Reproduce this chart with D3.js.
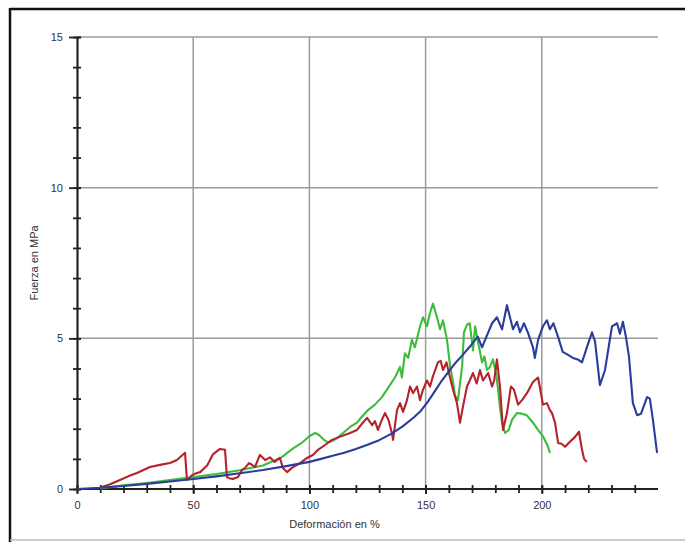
<!DOCTYPE html>
<html>
<head>
<meta charset="utf-8">
<script src="https://cdn.jsdelivr.net/npm/d3@7"></script>
<style>
  body { margin: 0; background: #fff; }
  svg { display: block; font-family: "Liberation Sans", Arial, sans-serif; }
</style>
</head>
<body>
<svg id="chart" width="685" height="542"></svg>
<script>
// tick values
const xMajor = [0, 50, 100, 150, 200];
const yMajor = [0, 5, 10, 15];

// series: [deformación %, fuerza MPa]
const blueData = [
  [0,0],[10,0.04],[20,0.1],[30,0.17],[40,0.25],[50,0.33],[60,0.42],[70,0.52],[80,0.63],
  [90,0.76],[100,0.9],[105,1.0],[110,1.1],[115,1.2],[120,1.33],[125,1.47],[130,1.62],
  [135,1.82],[140,2.07],[145,2.38],[148,2.6],[151,2.9],[154,3.25],[157,3.6],[160,3.9],
  [163,4.2],[166,4.45],[169,4.72],[171.3,4.95],[172.5,5.05],[174.3,4.7],
  [175.6,4.95],[178.6,5.5],[180.7,5.7],[182.9,5.3],[185,6.1],[186.3,5.7],[187.6,5.3],
  [189.3,5.55],[190.6,5.2],[192.3,5.5],[194,5.2],[196.2,4.7],[197,4.35],[198.4,4.95],
  [200.5,5.4],[202.2,5.6],[203.5,5.3],[205,5.5],[207,5.05],[209,4.55],[211.3,4.45],
  [213.4,4.35],[215.5,4.3],[217.3,4.2],[219.4,4.7],[221.6,5.2],[222.9,4.9],[225,3.45],
  [227.2,3.95],[230.2,5.4],[232.4,5.5],[233.6,5.15],[234.9,5.55],[236.2,5.05],[237.5,4.4],
  [239.2,2.85],[241,2.45],[242.7,2.5],[245.3,3.05],[246.5,3.0],[247.8,2.3],[249.6,1.2]
];

const redData = [
  [10,0.05],[14,0.15],[18.5,0.3],[22,0.42],[25.8,0.53],[31.4,0.73],[35.7,0.8],[40,0.86],
  [43,0.96],[46.5,1.2],[47.3,0.3],[49.5,0.46],[51.6,0.53],[53,0.56],[56,0.78],[58.5,1.15],
  [61.5,1.33],[63.7,1.3],[64.5,0.4],[65.5,0.36],[67,0.33],[69.3,0.4],[71,0.63],[72.3,0.7],
  [74,0.86],[75,0.82],[76.6,0.73],[78.7,1.13],[81,0.96],[83,1.05],[85,0.9],[87.3,1.03],
  [88.6,0.7],[90.4,0.56],[92.5,0.7],[96,0.86],[99,1.03],[101.5,1.13],[103.7,1.3],
  [106.7,1.46],[109.7,1.63],[113,1.73],[117.5,1.86],[120.5,1.96],[123,2.2],[124.8,2.36],
  [127,2.12],[128.2,2.25],[129.5,1.96],[131.2,2.3],[132.5,2.52],[134,2.3],[135.5,1.86],
  [136,1.63],[137.7,2.62],[139,2.85],[140.3,2.56],[142,2.95],[143.3,3.4],[144.6,3.18],
  [146.3,3.4],[147.6,2.95],[148.9,3.3],[150.6,3.6],[151.9,3.4],[153.2,3.75],[155.3,4.2],
  [156.5,4.25],[157.5,3.95],[159,4.2],[160.5,3.7],[161.8,3.3],[163.5,2.85],[164.8,2.2],
  [166,2.7],[167.8,3.4],[169,3.6],[170.4,3.85],[172,3.5],[173.4,3.95],[174.7,3.6],
  [176.9,3.85],[178.6,3.4],[179.5,3.6],[180.7,4.3],[182,3.4],[183.3,1.96],[185,2.52],
  [186.7,3.4],[188,3.3],[189.8,2.8],[191.5,2.95],[193.6,3.18],[196.2,3.55],[198.4,3.7],
  [200.5,2.8],[202.2,2.85],[203.5,2.62],[204.4,2.52],[205.7,2.2],[207,1.53],[208.5,1.5],
  [210,1.4],[212,1.56],[214.3,1.73],[216,1.9],[217.3,1.3],[218.2,1.0],[219.4,0.9]
];

const greenData = [
  [10,0.02],[20,0.12],[30,0.2],[40,0.3],[50,0.4],[60,0.5],[70,0.62],[80,0.78],[88,1.05],
  [93,1.35],[97,1.55],[100,1.75],[102.5,1.86],[104,1.8],[106,1.65],[108,1.55],[110,1.6],
  [112,1.7],[114.5,1.86],[117.5,2.06],[120.5,2.2],[122.6,2.4],[125.2,2.62],[128.2,2.8],
  [131.2,3.05],[133.8,3.35],[136.8,3.7],[139,4.05],[139.8,3.7],[141.1,4.5],[142.5,4.35],
  [144.1,4.95],[145.4,4.7],[147.6,5.4],[148.9,5.7],[150.6,5.4],[151.9,5.85],[153.2,6.15],
  [154.9,5.7],[156.2,5.3],[157.5,5.6],[159.2,4.95],[160.5,4.1],[161.8,3.55],[162.6,3.1],
  [163.9,2.95],[165.7,4.05],[166.5,5.2],[167.8,5.45],[169,5.5],[170.4,4.6],[171.3,5.4],
  [172.5,4.9],[174.3,4.2],[175.3,4.4],[176.4,3.95],[177.7,4.05],[179,4.3],[180.3,3.85],
  [181.2,3.3],[182,2.7],[182.9,2.2],[184.2,1.86],[185.7,1.95],[187.2,2.3],[189.3,2.52],
  [191.5,2.5],[193.5,2.45],[196.2,2.2],[198.4,1.96],[200.5,1.75],[202.7,1.4],[203.5,1.2]
];

const svg = d3.select("#chart");
const margin = {top: 37, right: 27, bottom: 53, left: 77};
const W = 685, H = 542;

const x = d3.scaleLinear().domain([0, 250]).range([margin.left, W - margin.right]);
const y = d3.scaleLinear().domain([0, 15]).range([H - margin.bottom, margin.top]);

// outer frame
svg.append("line").attr("x1", 10).attr("x2", 10).attr("y1", 8).attr("y2", 542)
   .attr("stroke", "#111").attr("stroke-width", 2.5);
svg.append("line").attr("x1", 10).attr("x2", 685).attr("y1", 9).attr("y2", 9)
   .attr("stroke", "#111").attr("stroke-width", 2.5);
svg.append("line").attr("x1", 10).attr("x2", 685).attr("y1", 540).attr("y2", 540)
   .attr("stroke", "#bbb").attr("stroke-width", 1.5);

// grid
svg.append("g").selectAll("line").data(yMajor.filter(d => d > 0)).enter().append("line")
   .attr("x1", x(0)).attr("x2", x(250))
   .attr("y1", d => y(d)).attr("y2", d => y(d))
   .attr("stroke", "#9a9a9a").attr("stroke-width", 1.5);
svg.append("g").selectAll("line").data(xMajor.filter(d => d > 0)).enter().append("line")
   .attr("x1", d => x(d)).attr("x2", d => x(d))
   .attr("y1", y(0)).attr("y2", y(15))
   .attr("stroke", "#9a9a9a").attr("stroke-width", 1.5);

// minor ticks (crossing the axis)
svg.append("g").attr("transform", "translate(0," + y(0) + ")")
   .call(d3.axisBottom(x).tickValues(d3.range(0, 250, 10)).tickSize(4).tickFormat(""))
   .call(g => g.select(".domain").remove())
   .call(g => g.selectAll("line").attr("y1", -4).attr("stroke", "#222").attr("stroke-width", 1.8));
svg.append("g").attr("transform", "translate(" + x(0) + ",0)")
   .call(d3.axisLeft(y).tickValues(d3.range(0, 16, 1)).tickSize(4).tickFormat(""))
   .call(g => g.select(".domain").remove())
   .call(g => g.selectAll("line").attr("x1", 4).attr("stroke", "#222").attr("stroke-width", 1.8));

// major axes with labels
const xAxis = svg.append("g").attr("transform", "translate(0," + y(0) + ")")
   .call(d3.axisBottom(x).tickValues(xMajor).tickSize(5).tickPadding(7).tickSizeOuter(0));
xAxis.select(".domain").attr("stroke", "#222").attr("stroke-width", 2.2)
     .attr("d", "M" + x(0) + ",0H" + x(250));
xAxis.selectAll("line").attr("y1", -4).attr("stroke", "#222").attr("stroke-width", 1.8);

const yAxis = svg.append("g").attr("transform", "translate(" + x(0) + ",0)")
   .call(d3.axisLeft(y).tickValues(yMajor).tickSize(8).tickPadding(6).tickSizeOuter(0));
yAxis.select(".domain").attr("stroke", "#222").attr("stroke-width", 2.2);
yAxis.selectAll("line").attr("x2", -8).attr("x1", 4).attr("stroke", "#222").attr("stroke-width", 1.8);

svg.selectAll(".tick text").attr("font-size", 11).attr("fill", "#333")
   .attr("font-family", "'Liberation Sans', Arial, sans-serif");

// axis titles
svg.append("text").attr("x", (x(0) + x(250)) / 2 - 33).attr("y", 528)
   .attr("text-anchor", "middle").attr("font-size", 11).attr("fill", "#333")
   .text("Deformación en %");
svg.append("text").attr("transform", "translate(38," + y(7.5) + ") rotate(-90)")
   .attr("text-anchor", "middle").attr("font-size", 11).attr("fill", "#333")
   .text("Fuerza en MPa");

// curves
const line = d3.line().x(d => x(d[0])).y(d => y(d[1]));
const series = [
  {data: greenData, color: "#3dbb3a"},
  {data: redData, color: "#b5222b"},
  {data: blueData, color: "#2a3c9c"}
];
svg.append("g").selectAll("path").data(series).enter().append("path")
   .attr("d", d => line(d.data))
   .attr("fill", "none")
   .attr("stroke", d => d.color)
   .attr("stroke-width", 2.1)
   .attr("stroke-linejoin", "round");
</script>
</body>
</html>
